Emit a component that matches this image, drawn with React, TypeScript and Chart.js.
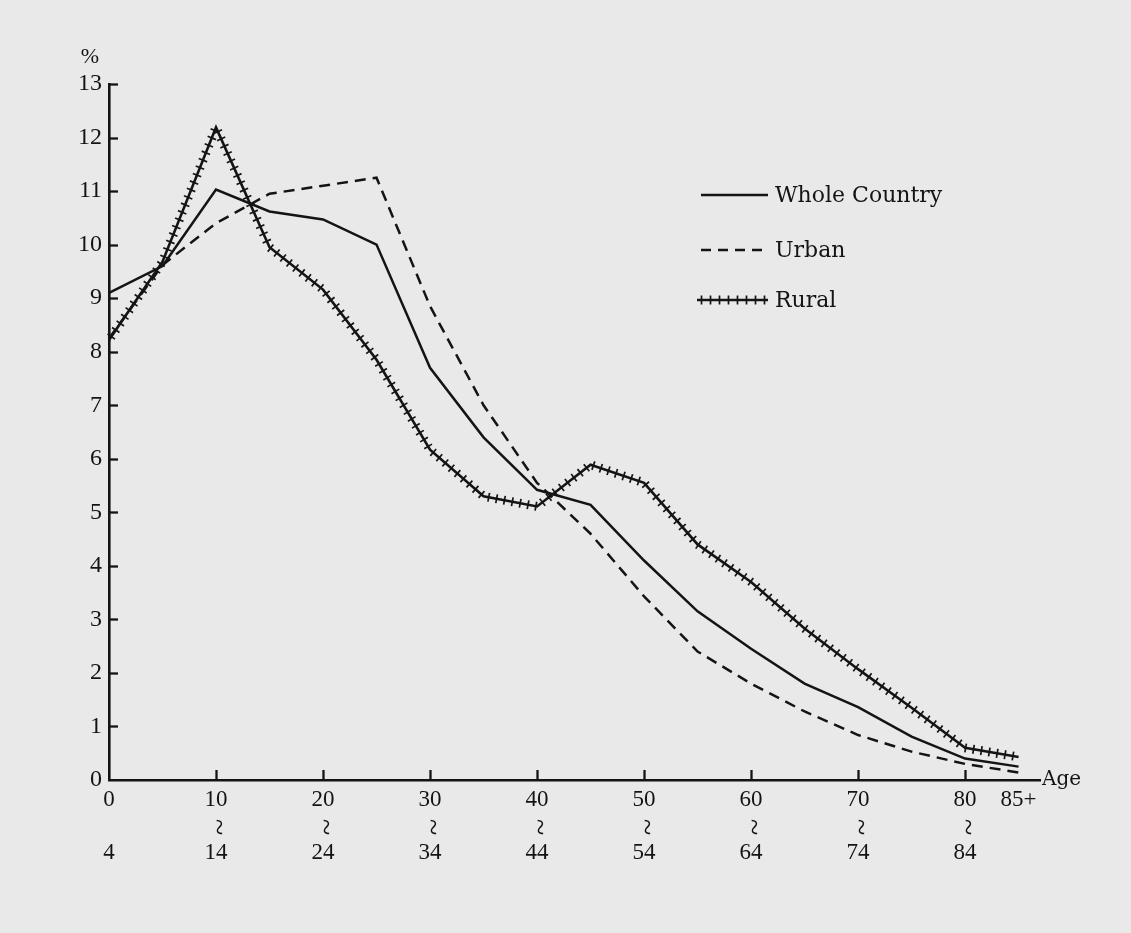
import React, { useEffect, useRef } from 'react';
import { Chart, registerables } from 'chart.js';

Chart.register(...registerables);

// ---- data (percent of population by 5-year age group) ----
const ageGroups = [0, 5, 10, 15, 20, 25, 30, 35, 40, 45, 50, 55, 60, 65, 70, 75, 80, 85];
const wholeCountry = [9.1, 9.6, 11.03, 10.62, 10.47, 10.0, 7.7, 6.4, 5.42, 5.14, 4.1, 3.15, 2.45, 1.8, 1.36, 0.81, 0.4, 0.25];
const urban = [8.25, 9.62, 10.4, 10.95, 11.1, 11.25, 8.85, 7.0, 5.55, 4.6, 3.43, 2.4, 1.8, 1.28, 0.84, 0.53, 0.3, 0.14];
const rural = [8.22, 9.68, 12.19, 9.95, 9.16, 7.85, 6.17, 5.3, 5.11, 5.89, 5.55, 4.4, 3.7, 2.83, 2.07, 1.35, 0.6, 0.43];

const seriesNames = ['Whole Country', 'Urban', 'Rural'];

const xTickValues = [0, 10, 20, 30, 40, 50, 60, 70, 80, 85];
const xTickTop = ['0', '10', '20', '30', '40', '50', '60', '70', '80', '85+'];
const xTickBottom = ['4', '14', '24', '34', '44', '54', '64', '74', '84', ''];
const xRangeMark = '~';
const xRangeMarkAt = [10, 20, 30, 40, 50, 60, 70, 80];
const xInnerTicks = [10, 20, 30, 40, 50, 60, 70, 80];

const yUnit = '%';
const xUnit = 'Age';

const INK = '#141414';
const PAPER = '#e9e9e9';
const NUM_FONT = '"Liberation Serif", "Times New Roman", serif';
const TXT_FONT = '"DejaVu Serif", serif';

function drawHatch(ctx: CanvasRenderingContext2D, pts: { x: number; y: number }[], step: number, half: number, width: number) {
  ctx.save();
  ctx.strokeStyle = INK;
  ctx.lineWidth = width;
  let next = step / 2;
  let acc = 0;
  for (let i = 0; i < pts.length - 1; i++) {
    const a = pts[i];
    const b = pts[i + 1];
    const dx = b.x - a.x;
    const dy = b.y - a.y;
    const len = Math.hypot(dx, dy);
    if (!len) continue;
    const ux = dx / len;
    const uy = dy / len;
    const nx = -uy;
    const ny = ux;
    while (next <= acc + len) {
      const t = next - acc;
      const px = a.x + ux * t;
      const py = a.y + uy * t;
      ctx.beginPath();
      ctx.moveTo(px + nx * half, py + ny * half);
      ctx.lineTo(px - nx * half, py - ny * half);
      ctx.stroke();
      next += step;
    }
    acc += len;
  }
  ctx.restore();
}

const decorPlugin = {
  id: 'decor',
  afterDatasetsDraw(chart: any) {
    const meta = chart.getDatasetMeta(2);
    const pts = meta.data.map((p: any) => ({ x: p.x, y: p.y }));
    drawHatch(chart.ctx, pts, 8, 4.5, 1.7);
  },
  afterDraw(chart: any) {
    const ctx: CanvasRenderingContext2D = chart.ctx;
    const xs = chart.scales.x;
    const ys = chart.scales.y;
    const area = chart.chartArea;
    ctx.save();
    ctx.strokeStyle = INK;
    ctx.lineWidth = 2.3;
    // inward y ticks
    ys.ticks.forEach((t: any) => {
      if (t.value === 0) return;
      const py = Math.round(ys.getPixelForValue(t.value)) + 0.5;
      ctx.beginPath();
      ctx.moveTo(area.left, py);
      ctx.lineTo(area.left + 9, py);
      ctx.stroke();
    });
    // inward x ticks
    xInnerTicks.forEach((v) => {
      const px = Math.round(xs.getPixelForValue(v)) + 0.5;
      ctx.beginPath();
      ctx.moveTo(px, area.bottom);
      ctx.lineTo(px, area.bottom - 10);
      ctx.stroke();
    });
    // vertical "~" between range start and end labels
    ctx.fillStyle = INK;
    ctx.font = `30px ${NUM_FONT}`;
    ctx.textAlign = 'center';
    ctx.textBaseline = 'middle';
    xRangeMarkAt.forEach((v) => {
      const px = xs.getPixelForValue(v);
      ctx.save();
      ctx.translate(px + 1, area.bottom + 47);
      ctx.rotate(Math.PI / 2);
      ctx.fillText(xRangeMark, 0, 0);
      ctx.restore();
    });
    // axis unit labels
    ctx.font = `22px ${NUM_FONT}`;
    ctx.textAlign = 'center';
    ctx.textBaseline = 'middle';
    ctx.fillText(yUnit, area.left - 19, area.top - 27);
    ctx.font = `20px ${TXT_FONT}`;
    ctx.textAlign = 'left';
    ctx.fillText(xUnit, area.right + 2, area.bottom);

    // legend
    const lx0 = 701;
    const lx1 = 768;
    const rowY = [195, 250, 300];
    ctx.font = `22px ${TXT_FONT}`;
    ctx.textBaseline = 'middle';
    seriesNames.forEach((name, i) => {
      const y = rowY[i];
      ctx.save();
      ctx.strokeStyle = INK;
      ctx.lineWidth = 2.5;
      if (i === 1) ctx.setLineDash([10, 7]);
      ctx.beginPath();
      ctx.moveTo(i === 2 ? lx0 - 4 : lx0, y);
      ctx.lineTo(lx1, y);
      ctx.stroke();
      ctx.restore();
      if (i === 2) {
        drawHatch(ctx, [{ x: lx0 - 4, y }, { x: lx1, y }], 9, 4.5, 1.7);
      }
      ctx.fillStyle = INK;
      ctx.fillText(name, 775, y + 1);
    });
    ctx.restore();
  },
};

export default function App() {
  const ref = useRef<HTMLCanvasElement | null>(null);

  useEffect(() => {
    if (!ref.current) return;
    const toPts = (arr: number[]) => ageGroups.map((a, i) => ({ x: a, y: arr[i] }));
    const chart = new Chart(ref.current, {
      type: 'line',
      data: {
        datasets: [
          {
            label: seriesNames[0],
            data: toPts(wholeCountry),
            borderColor: INK,
            borderWidth: 2.5,
            pointRadius: 0,
            tension: 0,
            fill: false,
          },
          {
            label: seriesNames[1],
            data: toPts(urban),
            borderColor: INK,
            borderWidth: 2.5,
            borderDash: [11, 7],
            pointRadius: 0,
            tension: 0,
            fill: false,
          },
          {
            label: seriesNames[2],
            data: toPts(rural),
            borderColor: INK,
            borderWidth: 2.6,
            pointRadius: 0,
            tension: 0,
            fill: false,
          },
        ],
      },
      options: {
        animation: false,
        responsive: false,
        maintainAspectRatio: false,
        layout: { padding: { top: 84, right: 91, left: 0, bottom: 0 } },
        plugins: {
          legend: { display: false },
          tooltip: { enabled: false },
        },
        scales: {
          x: {
            type: 'linear',
            min: 0,
            max: 87,
            grid: { display: false, drawTicks: false },
            border: { display: true, color: INK, width: 2.6 },
            afterFit(s: any) {
              s.height = 153;
            },
            afterBuildTicks(s: any) {
              s.ticks = xTickValues.map((v) => ({ value: v }));
            },
            ticks: {
              autoSkip: false,
              maxRotation: 0,
              minRotation: 0,
              padding: 7,
              color: INK,
              font: { family: NUM_FONT, size: 23, lineHeight: 1.15 },
              callback: (value: any) => {
                const i = xTickValues.indexOf(Number(value));
                if (i < 0) return '';
                if (!xTickBottom[i]) return xTickTop[i];
                return [xTickTop[i], '', xTickBottom[i]];
              },
            },
          },
          y: {
            min: 0,
            max: 13,
            grid: { display: false, drawTicks: false },
            border: { display: true, color: INK, width: 2.6 },
            afterFit(s: any) {
              s.width = 109;
            },
            ticks: {
              stepSize: 1,
              padding: 7,
              color: INK,
              font: { family: NUM_FONT, size: 24 },
            },
          },
        },
      },
      plugins: [decorPlugin],
    });
    return () => chart.destroy();
  }, []);

  return (
    <div style={{ position: 'absolute', left: 0, top: 0, width: 1131, height: 933, background: PAPER }}>
      <canvas ref={ref} width={1131} height={933} style={{ display: 'block' }} />
    </div>
  );
}
